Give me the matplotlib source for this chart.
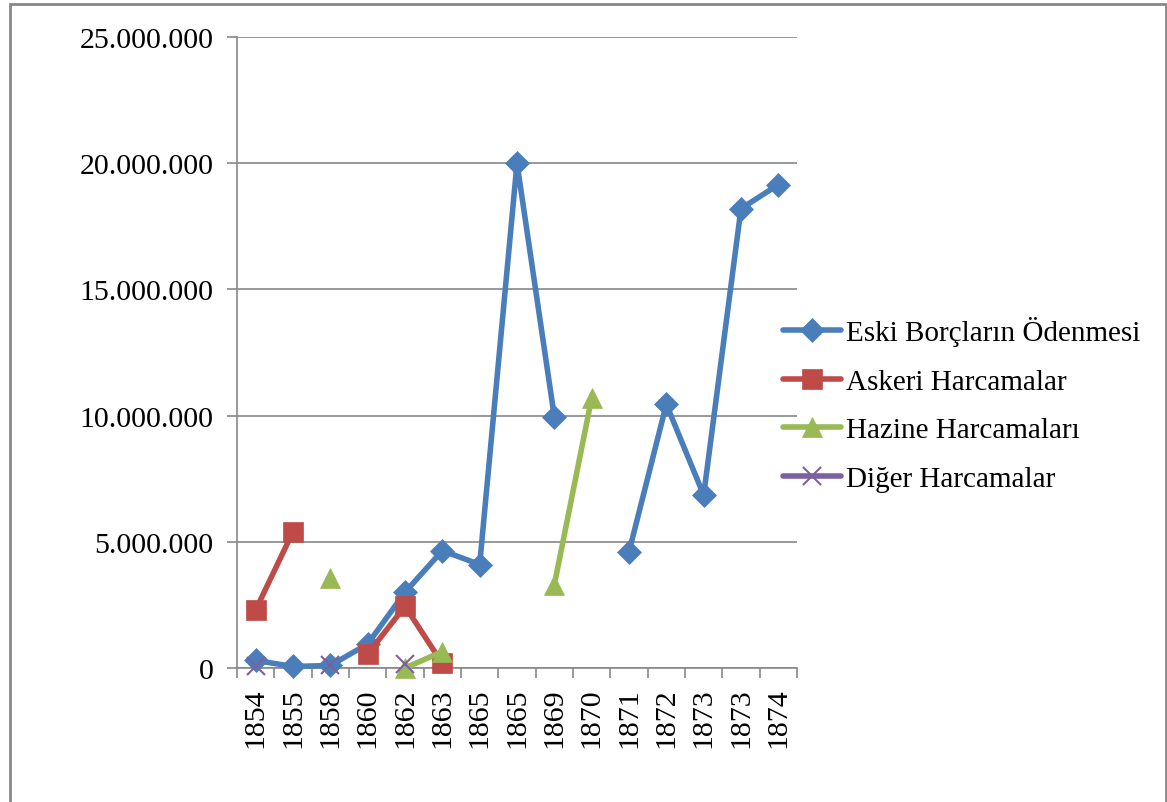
import matplotlib
matplotlib.use("Agg")
import matplotlib.pyplot as plt
import numpy as np
from matplotlib.patches import Rectangle

plt.rcParams['font.family'] = ['Liberation Serif', 'DejaVu Serif']

years = ["1854", "1855", "1858", "1860", "1862", "1863", "1865", "1865",
         "1869", "1870", "1871", "1872", "1873", "1873", "1874"]
nan = np.nan
eski = [300000, 60000, 100000, 950000, 3000000, 4650000, 4100000, 20000000,
        9950000, nan, 4600000, 10450000, 6850000, 18200000, 19150000]
askeri = [2300000, 5400000, nan, 550000, 2450000, 180000, nan, nan,
          nan, nan, nan, nan, nan, nan, nan]
hazine = [nan, nan, 3550000, nan, 0, 650000, nan, nan,
          3300000, 10700000, nan, nan, nan, nan, nan]
diger = [80000, nan, 100000, nan, 150000, nan, nan, nan,
         nan, nan, nan, nan, nan, nan, nan]

series = [
    ("Eski Borçların Ödenmesi", eski, "#4A7EBB", "D", 12),
    ("Askeri Harcamalar", askeri, "#BE4B48", "s", 14),
    ("Hazine Harcamaları", hazine, "#98B954", "^", 14),
    ("Diğer Harcamalar", diger, "#7D60A0", "x", 13),
]

fig = plt.figure(figsize=(11.67, 8.03), dpi=100)
ax = fig.add_axes([237 / 1167, 1 - 669 / 803, 560 / 1167, 631 / 803])

x = np.arange(len(years))
for name, vals, col, mk, ms in series:
    ax.plot(x, vals, color=col, lw=4, marker=mk, markersize=ms,
            markeredgewidth=1.5 if mk == "x" else 0.5, markeredgecolor=col,
            label=name, solid_capstyle="round", clip_on=False, zorder=3)

ax.set_xlim(-0.5, len(years) - 0.5)
ax.set_ylim(0, 25000000)
ax.set_yticks(np.arange(0, 25000001, 5000000))
ax.set_yticklabels(["0" if v == 0 else f"{v:,}".replace(",", ".")
                    for v in range(0, 25000001, 5000000)], fontsize=21.5)
ax.yaxis.grid(True, color="#888888", lw=1.2)
ax.set_axisbelow(True)

ax.set_xticks(x)
ax.set_xticklabels(years, rotation=90, fontsize=21.5)
ax.set_xticks(np.arange(-0.5, len(years), 1), minor=True)
ax.tick_params(axis="x", which="major", length=0, pad=14)
ax.tick_params(axis="x", which="minor", length=7, color="#888888", width=1.2)
ax.tick_params(axis="y", length=7, color="#888888", width=1.2, pad=10)

for s in ["top", "right"]:
    ax.spines[s].set_visible(False)
for s in ["left", "bottom"]:
    ax.spines[s].set_color("#888888")
    ax.spines[s].set_linewidth(1.2)

ax.legend(loc="center left", bbox_to_anchor=(783 / 1167, 1 - 405 / 803),
          bbox_transform=fig.transFigure, frameon=False, fontsize=21,
          handlelength=2.0, handletextpad=0.15, labelspacing=0.76,
          borderaxespad=0, borderpad=0)

fig.patches.append(Rectangle((10 / 1167, -0.01), 1156 / 1167, 1.01 - 5 / 803,
                             transform=fig.transFigure, fill=False,
                             edgecolor="#888888", lw=2))

fig.savefig("out.png", dpi=100)
